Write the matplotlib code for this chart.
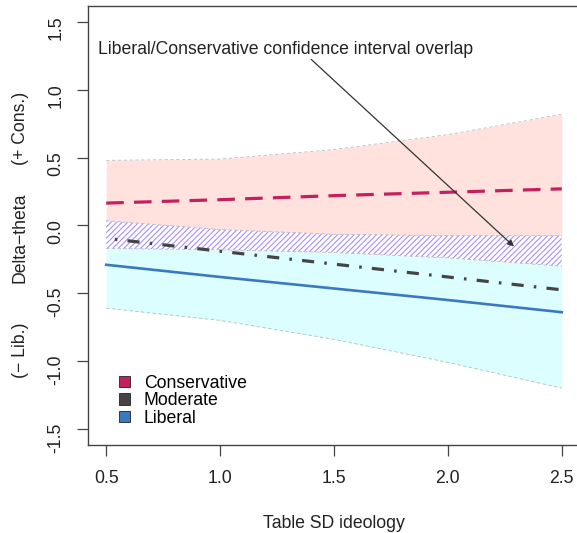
import matplotlib
matplotlib.use("Agg")
import matplotlib.pyplot as plt
from matplotlib.patches import Patch

plt.rcParams['font.family'] = ['Liberation Sans', 'DejaVu Sans']
plt.rcParams['hatch.linewidth'] = 0.8

# values
sd = [0.5, 1.0, 1.5, 2.0, 2.5]
cons_fit = [0.165, 0.19, 0.22, 0.245, 0.27]
mod_fit = [-0.095, -0.19, -0.285, -0.38, -0.475]
lib_fit = [-0.29, -0.38, -0.465, -0.55, -0.64]
cons_upper = [0.48, 0.49, 0.56, 0.67, 0.82]
cons_lower = [0.035, -0.03, -0.065, -0.075, -0.075]
lib_upper = [-0.17, -0.18, -0.20, -0.24, -0.30]
lib_lower = [-0.61, -0.70, -0.84, -1.01, -1.20]

groups = ["Conservative", "Moderate", "Liberal"]
group_colors = ["#C4205E", "#444444", "#3B78C0"]
xticks = [0.5, 1.0, 1.5, 2.0, 2.5]
yticks = [-1.5, -1.0, -0.5, 0.0, 0.5, 1.0, 1.5]

fs = 12.7
txt = "#222222"

fig = plt.figure(figsize=(5.77, 5.33), dpi=100)
ax = fig.add_axes([0.1525, 0.165, 0.8527, 0.824])

# confidence bands
ax.fill_between(sd, cons_lower, cons_upper, color="#FFE1DD", lw=0)
ax.fill_between(sd, lib_lower, lib_upper, color="#DDFEFE", lw=0)
ax.fill_between(sd, lib_upper, cons_lower, facecolor="white",
                edgecolor="#A88EFF", hatch="//////", lw=0)
for b in (cons_upper, cons_lower, lib_upper, lib_lower):
    ax.plot(sd, b, color="#BBBBBB", lw=0.6, linestyle=(0, (4, 3)))

# fitted lines
ax.plot(sd, cons_fit, color=group_colors[0], lw=2.3,
        linestyle=(0, (5.5, 3.2)))
ax.plot(sd, mod_fit, color=group_colors[1], lw=2.3,
        linestyle=(4.3, (3.8, 3.2, 0.8, 3.2)))
ax.plot(sd, lib_fit, color=group_colors[2], lw=1.9)

ax.set_xlim(0.42, 2.58)
ax.set_ylim(-1.62, 1.62)
ax.set_xticks(xticks)
ax.set_xticklabels(["%.1f" % v for v in xticks])
ax.set_yticks(yticks)
ax.set_yticklabels(["%.1f" % v for v in yticks])
ax.tick_params(axis='both', direction='out', length=8, width=0.9,
               color="#444444", labelsize=fs, labelcolor=txt, pad=10)
ax.tick_params(axis='y', labelrotation=90, pad=9)
for s in ax.spines.values():
    s.set_color("#444444")
    s.set_linewidth(1.0)

# annotation
ax.text(0.465, 1.30, "Liberal/Conservative confidence interval overlap",
        fontsize=fs, va='center', ha='left', color=txt)
ax.annotate("", xy=(2.29, -0.155), xytext=(1.40, 1.225),
            arrowprops=dict(arrowstyle='-|>', color="#333333", lw=0.9,
                            mutation_scale=9, shrinkA=0, shrinkB=0))

handles = [Patch(facecolor=c, edgecolor="#222222", lw=0.6) for c in group_colors]
ax.legend(handles, groups, loc='lower left', bbox_to_anchor=(0.045, 0.022),
          frameon=False, fontsize=fs, handlelength=0.6, handleheight=0.6,
          handletextpad=0.8, labelspacing=0.02, borderpad=0)

ax.set_xlabel("Table SD ideology", fontsize=fs, color=txt, labelpad=20)

# split y label
fig.text(0.035, 1 - 128 / 533, "(+ Cons.)", rotation=90, fontsize=fs,
         ha='center', va='center', color=txt)
fig.text(0.035, 1 - 238 / 533, "Delta\u2212theta", rotation=90, fontsize=fs,
         ha='center', va='center', color=txt)
fig.text(0.035, 1 - 350 / 533, "(\u2212 Lib.)", rotation=90, fontsize=fs,
         ha='center', va='center', color=txt)

fig.savefig("out.png", dpi=100)
